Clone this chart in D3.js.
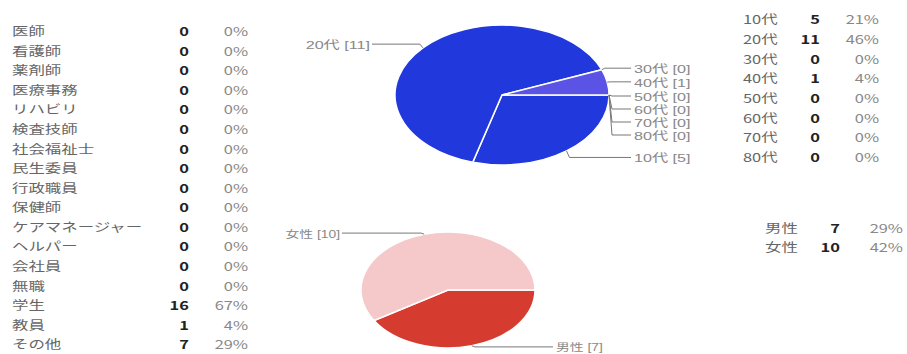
<!DOCTYPE html>
<html>
<head>
<meta charset="utf-8">
<script src="https://cdn.jsdelivr.net/npm/d3@7"></script>
<style>
  html, body { margin: 0; padding: 0; background: #fff; }
  svg { display: block; font-family: "Noto Sans CJK JP", "Noto Sans", sans-serif; }
  .pie-label { font-family: "Liberation Sans", "Noto Sans CJK JP", sans-serif; }
</style>
</head>
<body>
<svg id="chart" width="907" height="354"></svg>
<script>
// Occupation table
const jobCategories = ["医師", "看護師", "薬剤師", "医療事務", "リハビリ", "検査技師", "社会福祉士", "民生委員",
  "行政職員", "保健師", "ケアマネージャー", "ヘルパー", "会社員", "無職", "学生", "教員", "その他"];
const jobCounts = [0, 0, 0, 0, 0, 0, 0, 0, 0, 0, 0, 0, 0, 0, 16, 1, 7];
const jobPercents = ["0%", "0%", "0%", "0%", "0%", "0%", "0%", "0%", "0%", "0%", "0%", "0%", "0%", "0%", "67%", "4%", "29%"];

// Age groups
const ageCategories = ["10代", "20代", "30代", "40代", "50代", "60代", "70代", "80代"];
const ageCounts = [5, 11, 0, 1, 0, 0, 0, 0];
const agePercents = ["21%", "46%", "0%", "4%", "0%", "0%", "0%", "0%"];
const ageColors = ["#2138dd", "#2138dd", "#2138dd", "#5b52e6", "#2138dd", "#2138dd", "#2138dd", "#2138dd"];

// Gender
const genderCategories = ["男性", "女性"];
const genderCounts = [7, 10];
const genderPercents = ["29%", "42%"];
const genderColors = ["#d63b30", "#f5c8ca"];

const svg = d3.select("#chart");
const WIDEN = 1.37; // text is set wide, stretched horizontally

// text placed at (x, y) and widened about its anchor point
function wideText(sel, x, y, widen) {
  return sel.attr("transform", `translate(${x},${y}) scale(${widen},1)`).attr("dy", "0.35em");
}

// ---- tables ----
function drawTable(g, cats, counts, pcts, opt) {
  const y = d3.scalePoint().domain(cats).range([opt.y0, opt.y1]);
  const rows = g.selectAll("g.row").data(cats).join("g").attr("class", "row");
  rows.append("text").each(function (d) {
    wideText(d3.select(this), opt.xLabel, y(d), WIDEN);
  }).attr("font-size", 12).attr("fill", "#666").text(d => d);
  rows.append("text").each(function (d) {
    wideText(d3.select(this), opt.xCount, y(d), WIDEN);
  }).attr("text-anchor", "end").attr("font-size", 12).attr("font-weight", "bold")
    .attr("fill", "#222").text((d, i) => counts[i]);
  rows.append("text").each(function (d) {
    wideText(d3.select(this), opt.xPct, y(d), WIDEN);
  }).attr("text-anchor", "end").attr("font-size", 12).attr("fill", "#888")
    .text((d, i) => pcts[i]);
}

drawTable(svg.append("g"), jobCategories, jobCounts, jobPercents,
  { y0: 32, y1: 345, xLabel: 12, xCount: 189, xPct: 248 });
drawTable(svg.append("g"), ageCategories, ageCounts, agePercents,
  { y0: 20, y1: 158, xLabel: 743, xCount: 820, xPct: 879 });
drawTable(svg.append("g"), genderCategories, genderCounts, genderPercents,
  { y0: 229, y1: 248, xLabel: 765, xCount: 840, xPct: 903 });

// ---- elliptical pies with leader labels ----
function drawPie(cats, counts, colors, opt) {
  const { cx, cy, rx, ry } = opt;
  const data = cats.map((c, i) => ({ cat: c, value: counts[i], color: colors[i] }));
  const pie = d3.pie().value(d => d.value).sort(null)
    .startAngle(Math.PI / 2).endAngle(Math.PI / 2 + 2 * Math.PI);
  const arcs = pie(data);
  const arc = d3.arc().innerRadius(0).outerRadius(ry);

  const g = svg.append("g");
  g.append("g")
    .attr("transform", `translate(${cx},${cy}) scale(${rx / ry},1)`)
    .selectAll("path").data(arcs.filter(a => a.value > 0)).join("path")
    .attr("d", arc)
    .attr("fill", d => d.data.color)
    .attr("stroke", "#fff")
    .attr("stroke-width", 1.5)
    .attr("vector-effect", "non-scaling-stroke");

  // anchor point on the ellipse edge at each slice's middle angle
  const items = arcs.map(a => {
    const t = (a.startAngle + a.endAngle) / 2;
    return {
      label: `${a.data.cat} [${a.value}]`,
      ax: cx + rx * Math.sin(t),
      ay: cy - ry * Math.cos(t),
      right: Math.sin(t) > -0.01
    };
  });

  ["right", "left"].forEach(side => {
    const list = items.filter(d => side === "right" ? d.right : !d.right)
      .sort((a, b) => a.ay - b.ay);
    let last = -Infinity;
    list.forEach(d => {
      d.ly = Math.max(cy + opt.dy + (d.ay - cy) * opt.spread, last + 13);
      last = d.ly;
    });
    list.forEach(d => {
      const lineEnd = side === "right" ? cx + rx + opt.gap - 3 : cx - rx - opt.gap + 2;
      const bend = side === "right" ? d.ax + 3 : d.ax - 3;
      g.append("polyline")
        .attr("points", `${d.ax},${d.ay} ${bend},${d.ly - 1} ${lineEnd},${d.ly - 1}`)
        .attr("fill", "none").attr("stroke", "#777").attr("stroke-width", 1);
      wideText(g.append("text"), side === "right" ? cx + rx + opt.gap : cx - rx - opt.gap, d.ly, opt.widen)
        .attr("class", "pie-label")
        .attr("text-anchor", side === "right" ? "start" : "end")
        .attr("font-size", opt.fontSize).attr("fill", "#888")
        .text(d.label);
    });
  });
}

drawPie(ageCategories, ageCounts, ageColors,
  { cx: 502, cy: 95, rx: 107, ry: 70, gap: 25, dy: 2, spread: 1.1, fontSize: 11, widen: 1.47 });
drawPie(genderCategories, genderCounts, genderColors,
  { cx: 448, cy: 290, rx: 87, ry: 58, gap: 21, dy: 1, spread: 1.02, fontSize: 10, widen: 1.38 });
</script>
</body>
</html>
